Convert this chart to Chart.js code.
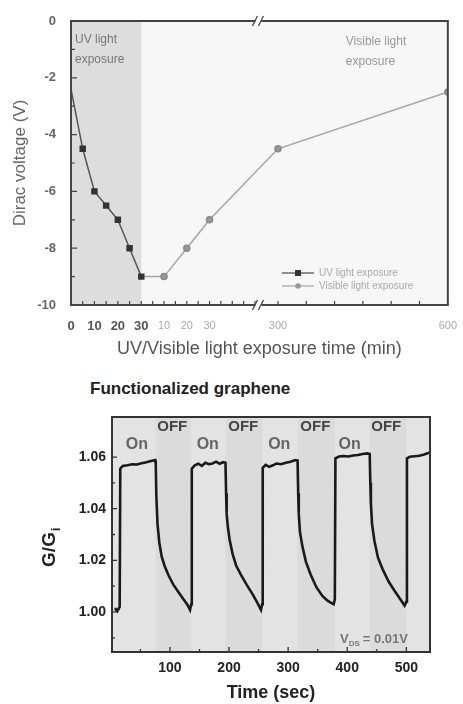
<!DOCTYPE html>
<html lang="en">
<head>
<meta charset="UTF-8">
<title>Dirac voltage / photoresponse</title>
<script src="https://cdn.jsdelivr.net/npm/chart.js"></script>
<style>
  body { margin: 0; background: #fff; font-family: "Liberation Sans", Arial, sans-serif; }
  #wrap { position: relative; width: 463px; height: 704px; }
  #diracChart { position: absolute; left: 0; top: 0; }
  #gChart { position: absolute; left: 0; top: 360px; }
  h3 { position: absolute; left: 90px; top: 379px; margin: 0; font-size: 17px; font-weight: bold; color: #222; }
</style>
</head>
<body>
<div id="wrap">
  <canvas id="diracChart" width="463" height="360"></canvas>
  <h3>Functionalized graphene</h3>
  <canvas id="gChart" width="463" height="344"></canvas>
</div>
<script>
// ---- top panel: Dirac voltage (V) vs exposure time (min)
const uvTime = [0, 5, 10, 15, 20, 25, 30];
const uvDirac = [-2.4, -4.5, -6, -6.5, -7, -8, -9];
const visTime = [0, 10, 20, 30, 300, 600];
const visDirac = [-9, -9, -8, -7, -4.5, -2.5];
const diracTicks = [0, -2, -4, -6, -8, -10];
const uvTickLabels = [0, 10, 20, 30];
const visTickLabels = [10, 20, 30, 300, 600];

// ---- bottom panel: G/Gi vs time (sec)
const gTime = [
  7, 11, 15, 16, 20, 28, 36, 44, 52, 60, 68, 75,
  76, 77, 79, 82, 86, 91, 98, 106, 114, 122, 129, 134,
  136, 137, 142, 148, 154, 160, 166, 172, 178, 184, 190, 194,
  195, 196, 198, 201, 206, 212, 220, 230, 240, 248, 254,
  256, 257, 262, 268, 274, 280, 288, 296, 304, 312, 316,
  317, 318, 320, 324, 330, 338, 348, 358, 366, 372, 377,
  379, 380, 386, 394, 402, 410, 418, 426, 434, 438,
  439, 440, 442, 446, 452, 460, 470, 480, 490, 497,
  500, 501, 506, 514, 522, 530, 540
];
const gRatio = [
  1.0015, 1.0003, 1.002, 1.0555, 1.0565, 1.0568, 1.0572, 1.0571, 1.0576, 1.058, 1.0585, 1.0588,
  1.0575, 1.045, 1.034, 1.027, 1.0215, 1.0178, 1.014, 1.0105, 1.0078, 1.0052, 1.003, 1.0008,
  1.003, 1.0555, 1.0568, 1.0574, 1.0566, 1.0578, 1.0572, 1.0575, 1.0582, 1.0574, 1.058, 1.0578,
  1.046, 1.038, 1.033, 1.028, 1.0225, 1.018, 1.0145, 1.0105, 1.0068, 1.0035, 1.0008,
  1.003, 1.0558, 1.057, 1.0562, 1.0568, 1.0575, 1.0572, 1.0578, 1.0582, 1.0588, 1.0586,
  1.046, 1.038, 1.031, 1.0255, 1.0195, 1.0145, 1.0095, 1.0062, 1.0045, 1.0036, 1.003,
  1.005, 1.0595, 1.0602, 1.0604, 1.0602, 1.0606, 1.0608, 1.0612, 1.0614, 1.0612,
  1.05, 1.042, 1.034, 1.0275, 1.021, 1.0165, 1.0118, 1.0082, 1.0048, 1.0025,
  1.004, 1.0595, 1.0601, 1.0603, 1.0605, 1.061, 1.0618
];
const offStart = [76, 194, 316, 438];
const offEnd = [136, 256, 379, 500];
const onLabelAt = [44, 164, 285, 404];
const offLabelAt = [104, 224, 346, 466];
const gTicks = [1.00, 1.02, 1.04, 1.06];
const timeTicks = [100, 200, 300, 400, 500];

// broken x axis of the top panel: 0-30 min UV, then visible 0-~50, then jump to 300-600
const UV_W = 72, VIS_W = 2.33, JUMP_AT = 192, LONG0 = 212, LONG_W = 0.58;
function uvX(t) { return t * UV_W / 30; }
function visX(t) { return t < 100 ? UV_W + t * VIS_W : LONG0 + (t - 300) * LONG_W; }

const xTickPos = uvTickLabels.map(uvX).concat(visTickLabels.map(visX));
const xTickText = uvTickLabels.concat(visTickLabels).map(String);

const minorTop = [];
for (let t = 0; t <= 30; t += 5) minorTop.push(uvX(t));
for (let t = 5; t <= 50; t += 5) minorTop.push(visX(t));
for (let t = 300; t <= 600; t += 50) minorTop.push(visX(t));

const topDecor = {
  id: 'topDecor',
  beforeDraw(chart) {
    const {ctx, chartArea: a, scales: {x}} = chart;
    ctx.save();
    ctx.fillStyle = '#f7f7f7';
    ctx.fillRect(a.left, a.top, a.width, a.height);
    ctx.fillStyle = '#dddddd';
    ctx.fillRect(a.left, a.top, x.getPixelForValue(uvX(30)) - a.left, a.height);
    ctx.restore();
  },
  afterDraw(chart) {
    const {ctx, chartArea: a, scales: {x, y}} = chart;
    ctx.save();
    ctx.strokeStyle = '#444';
    ctx.lineWidth = 2;
    ctx.strokeRect(a.left, a.top, a.width, a.height);
    // inward ticks
    ctx.lineWidth = 1.2;
    ctx.beginPath();
    minorTop.forEach(v => {
      const px = x.getPixelForValue(v);
      ctx.moveTo(px, a.bottom); ctx.lineTo(px, a.bottom - 4);
    });
    for (let v = -10; v <= 0; v++) {
      const py = y.getPixelForValue(v);
      ctx.moveTo(a.left, py); ctx.lineTo(a.left + (v % 2 === 0 ? 6 : 4), py);
    }
    ctx.stroke();
    // axis break marks
    const bx = x.getPixelForValue(JUMP_AT);
    [a.top, a.bottom].forEach(by => {
      ctx.fillStyle = '#fff';
      ctx.fillRect(bx - 3, by - 3, 6, 6);
      ctx.strokeStyle = '#444';
      ctx.lineWidth = 1.3;
      ctx.beginPath();
      ctx.moveTo(bx - 6, by + 5); ctx.lineTo(bx - 1, by - 5);
      ctx.moveTo(bx, by + 5); ctx.lineTo(bx + 5, by - 5);
      ctx.stroke();
    });
    // region notes
    ctx.fillStyle = '#777';
    ctx.font = '12px "Liberation Sans", Arial, sans-serif';
    ctx.textBaseline = 'middle';
    ctx.textAlign = 'left';
    ctx.fillText('UV light', a.left + 4, a.top + 19);
    ctx.fillText('exposure', a.left + 4, a.top + 39);
    ctx.fillStyle = '#999';
    ctx.fillText('Visible light', a.right - 102, a.top + 21);
    ctx.fillText('exposure', a.right - 102, a.top + 41);
    // legend
    const lx = 282, ly1 = a.bottom - 32, ly2 = a.bottom - 19;
    ctx.lineWidth = 1.3;
    ctx.strokeStyle = '#555';
    ctx.beginPath(); ctx.moveTo(lx, ly1); ctx.lineTo(lx + 32, ly1); ctx.stroke();
    ctx.fillStyle = '#333';
    ctx.fillRect(lx + 13, ly1 - 3, 6, 6);
    ctx.strokeStyle = '#aaa';
    ctx.beginPath(); ctx.moveTo(lx, ly2); ctx.lineTo(lx + 32, ly2); ctx.stroke();
    ctx.fillStyle = '#999';
    ctx.beginPath(); ctx.arc(lx + 16, ly2, 2.8, 0, Math.PI * 2); ctx.fill();
    ctx.fillStyle = '#aaa';
    ctx.font = '10px "Liberation Sans", Arial, sans-serif';
    ctx.fillText('UV light exposure', lx + 37, ly1);
    ctx.fillText('Visible light exposure', lx + 37, ly2);
    ctx.restore();
  }
};

new Chart(document.getElementById('diracChart'), {
  type: 'line',
  data: {
    datasets: [
      {
        label: 'UV light exposure',
        data: uvTime.map((t, i) => ({x: uvX(t), y: uvDirac[i]})),
        borderColor: '#555',
        borderWidth: 1.5,
        pointStyle: 'rect',
        pointRadius: ctx => ctx.dataIndex === 0 ? 0 : 3.5,
        pointBackgroundColor: '#333',
        pointBorderColor: '#333',
        order: 1
      },
      {
        label: 'Visible light exposure',
        data: visTime.map((t, i) => ({x: visX(t), y: visDirac[i]})),
        borderColor: '#a5a5a5',
        borderWidth: 1.5,
        pointStyle: 'circle',
        pointRadius: ctx => ctx.dataIndex === 0 ? 0 : 3,
        pointBackgroundColor: '#999',
        pointBorderColor: '#888',
        order: 2
      }
    ]
  },
  options: {
    responsive: false,
    animation: false,
    layout: { padding: { top: 21, right: 6, left: 0, bottom: 0 } },
    plugins: { legend: { display: false }, tooltip: { enabled: false } },
    scales: {
      x: {
        type: 'linear', min: 0, max: 386,
        afterBuildTicks: s => { s.ticks = xTickPos.map(v => ({value: v})); },
        afterFit: s => { s.height = 55; },
        grid: { display: false },
        border: { display: false },
        ticks: {
          autoSkip: false, maxRotation: 0, padding: 6,
          callback: (v, i) => xTickText[i],
          color: ctx => ctx.index < 4 ? '#555' : '#aaa',
          font: ctx => ctx.index < 4 ? {size: 13, weight: 'bold'} : {size: 11}
        },
        title: {
          display: true, text: 'UV/Visible light exposure time (min)',
          color: '#555', font: {size: 18}, padding: {top: 0, bottom: 0}
        }
      },
      y: {
        min: -10, max: 0,
        afterBuildTicks: s => { s.ticks = diracTicks.map(v => ({value: v})); },
        afterFit: s => { s.width = 71; },
        grid: { display: false },
        border: { display: false },
        ticks: { color: '#666', font: {size: 13, weight: 'bold'}, padding: 7 },
        title: {
          display: true, text: 'Dirac voltage (V)',
          color: '#666', font: {size: 17}, padding: {top: 10, bottom: 0}
        }
      }
    }
  },
  plugins: [topDecor]
});

const bottomDecor = {
  id: 'bottomDecor',
  beforeDraw(chart) {
    const {ctx, chartArea: a, scales: {x}} = chart;
    ctx.save();
    ctx.fillStyle = '#e3e3e3';
    ctx.fillRect(a.left, a.top, a.width, a.height);
    ctx.fillStyle = '#dbdbdb';
    offStart.forEach((s, i) => {
      const x0 = x.getPixelForValue(s), x1 = x.getPixelForValue(offEnd[i]);
      ctx.fillRect(x0, a.top, x1 - x0, a.height);
    });
    ctx.restore();
  },
  afterDraw(chart) {
    const {ctx, chartArea: a, scales: {x, y}} = chart;
    ctx.save();
    ctx.strokeStyle = '#333';
    ctx.lineWidth = 2;
    ctx.strokeRect(a.left, a.top, a.width, a.height);
    ctx.lineWidth = 1.3;
    ctx.beginPath();
    for (let t = 50; t <= 500; t += 50) {
      const px = x.getPixelForValue(t);
      ctx.moveTo(px, a.bottom); ctx.lineTo(px, a.bottom - (t % 100 === 0 ? 5 : 3));
    }
    for (let k = 0; k <= 7; k++) {
      const py = y.getPixelForValue(0.99 + k * 0.01);
      ctx.moveTo(a.left, py); ctx.lineTo(a.left + (k % 2 === 1 ? 5 : 3), py);
    }
    ctx.stroke();
    // On / OFF marks
    ctx.textAlign = 'center';
    ctx.textBaseline = 'middle';
    ctx.fillStyle = '#666';
    ctx.font = 'bold 16px "Liberation Sans", Arial, sans-serif';
    onLabelAt.forEach(t => ctx.fillText('On', x.getPixelForValue(t), a.top + 28));
    ctx.fillStyle = '#444';
    ctx.font = 'bold 15px "Liberation Sans", Arial, sans-serif';
    offLabelAt.forEach(t => ctx.fillText('OFF', x.getPixelForValue(t), a.top + 10));
    // V_DS note
    ctx.fillStyle = '#777';
    ctx.textAlign = 'left';
    ctx.textBaseline = 'alphabetic';
    let vx = a.right - 90, vy = a.bottom - 9;
    ctx.font = 'bold 13px "Liberation Sans", Arial, sans-serif';
    ctx.fillText('V', vx, vy);
    vx += ctx.measureText('V').width;
    ctx.font = 'bold 8px "Liberation Sans", Arial, sans-serif';
    ctx.fillText('DS', vx, vy + 3);
    vx += ctx.measureText('DS').width + 3;
    ctx.font = 'bold 13px "Liberation Sans", Arial, sans-serif';
    ctx.fillText('= 0.01V', vx, vy);
    // y title with subscript
    ctx.translate(50, (a.top + a.bottom) / 2 + 12);
    ctx.rotate(-Math.PI / 2);
    ctx.fillStyle = '#222';
    ctx.textBaseline = 'middle';
    ctx.font = 'bold 19px "Liberation Sans", Arial, sans-serif';
    const w = ctx.measureText('G/G').width;
    ctx.fillText('G/G', -w / 2 - 3, 0);
    ctx.font = 'bold 12px "Liberation Sans", Arial, sans-serif';
    ctx.fillText('i', w / 2 - 2, 7);
    ctx.restore();
  }
};

new Chart(document.getElementById('gChart'), {
  type: 'line',
  data: {
    datasets: [{
      label: 'G/Gi',
      data: gTime.map((t, i) => ({x: t, y: gRatio[i]})),
      borderColor: '#1a1a1a',
      borderWidth: 2.6,
      pointRadius: 0,
      tension: 0
    }]
  },
  options: {
    responsive: false,
    animation: false,
    layout: { padding: { top: 57, right: 33, left: 0, bottom: 0 } },
    plugins: { legend: { display: false }, tooltip: { enabled: false } },
    scales: {
      x: {
        type: 'linear', min: 2, max: 540,
        afterBuildTicks: s => { s.ticks = timeTicks.map(v => ({value: v})); },
        afterFit: s => { s.height = 52; },
        grid: { display: false, drawTicks: false },
        border: { display: false },
        ticks: { color: '#222', font: {size: 14, weight: 'bold'}, padding: 8, maxRotation: 0 },
        title: {
          display: true, text: 'Time (sec)',
          color: '#222', font: {size: 18, weight: 'bold'}, padding: {top: 0, bottom: 0}
        }
      },
      y: {
        min: 0.9845, max: 1.0755,
        afterBuildTicks: s => { s.ticks = gTicks.map(v => ({value: v})); },
        afterFit: s => { s.width = 112; },
        grid: { display: false, drawTicks: false },
        border: { display: false },
        ticks: { color: '#222', font: {size: 14, weight: 'bold'}, padding: 6, callback: v => v.toFixed(2) }
      }
    }
  },
  plugins: [bottomDecor]
});
</script>
</body>
</html>
